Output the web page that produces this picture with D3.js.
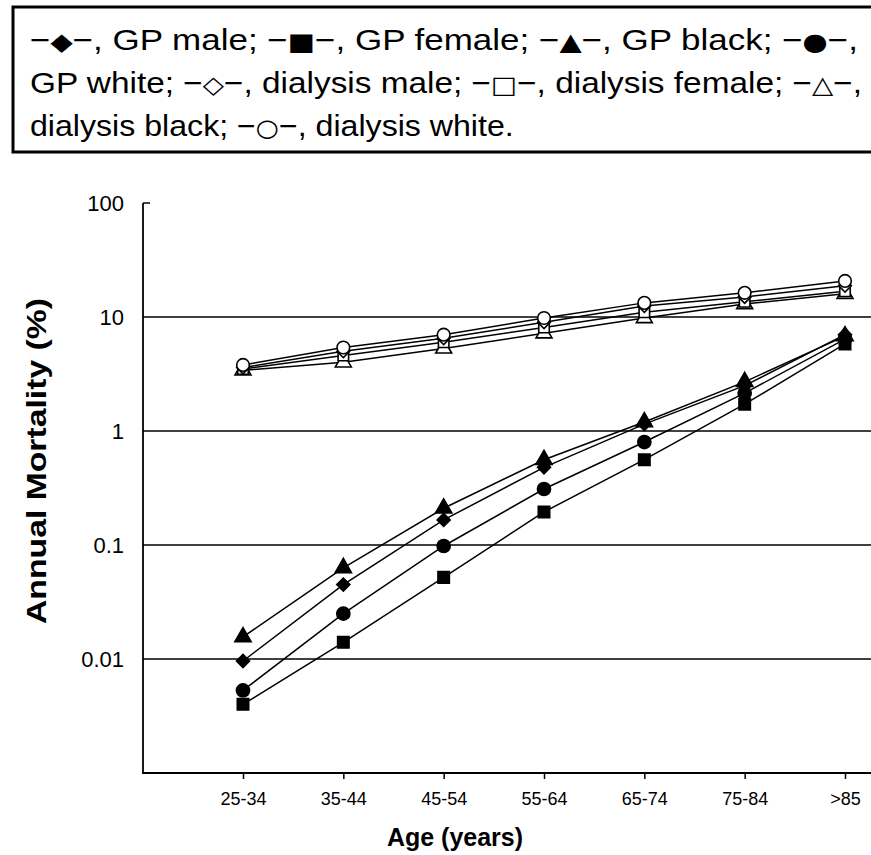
<!DOCTYPE html>
<html><head><meta charset="utf-8">
<script src="https://cdn.jsdelivr.net/npm/d3@7"></script>
<style>
html,body{margin:0;padding:0;background:#fff;}
svg{display:block;}
</style></head>
<body>
<svg id="c" width="871" height="855"></svg>
<script>
const categories = ["25-34","35-44","45-54","55-64","65-74","75-84",">85"];
const gpMale     = [0.0096, 0.045, 0.166, 0.48, 1.15, 2.5, 7.0];
const gpFemale   = [0.0040, 0.014, 0.052, 0.195, 0.56, 1.72, 5.8];
const gpBlack    = [0.0156, 0.063, 0.21, 0.56, 1.2, 2.7, 6.8];
const gpWhite    = [0.0053, 0.025, 0.098, 0.31, 0.8, 2.15, 6.4];
const dialMale   = [3.6, 5.0, 6.5, 9.0, 12.5, 15.0, 18.8];
const dialFemale = [3.5, 4.6, 6.0, 8.1, 11.0, 13.6, 16.8];
const dialBlack  = [3.4, 4.0, 5.3, 7.2, 9.8, 13.0, 16.0];
const dialWhite  = [3.8, 5.4, 7.0, 9.8, 13.3, 16.3, 20.7];
const yTicks = [100, 10, 1, 0.1, 0.01];
const yTickLabels = ["100", "10", "1", "0.1", "0.01"];
// legend lines: [text, symbol, text, symbol, ...]
const legendLines = [
  ["", "\u25C6", ", GP male; ", "\u25A0", ", GP female; ", "\u25B2", ", GP black; ", "\u25CF", ","],
  ["GP white; ", "\u25C7", ", dialysis male; ", "\u25A1", ", dialysis female; ", "\u25B3", ","],
  ["dialysis black; ", "\u25CB", ", dialysis white."]
];
const legendTargets = [828, 832];

const FONT = "Liberation Sans, Arial, sans-serif";
const svg = d3.select("#c");
const x = d3.scalePoint().domain(categories).range([243, 845]);
const y = d3.scaleLog().domain([0.001, 100]).range([773, 203]);

// legend box
svg.append("rect").attr("x", 13).attr("y", 7).attr("width", 880).attr("height", 145)
  .attr("fill", "none").attr("stroke", "#000").attr("stroke-width", 3);
const legendTexts = legendLines.map((parts, i) => {
  const t = svg.append("text").attr("x", 30).attr("y", 50 + i * 43)
    .attr("font-family", FONT).attr("font-size", 29).attr("fill", "#000");
  parts.forEach((p, j) => {
    if (j % 2 === 0) {
      if (p) t.append("tspan").text(p);
    } else {
      t.append("tspan").text("\u2212");
      t.append("tspan").attr("font-family", "DejaVu Sans").attr("font-size", 24).text(p);
      t.append("tspan").text("\u2212");
    }
  });
  return t;
});
const widths = legendTexts.map(t => t.node().getComputedTextLength());
const scales = legendTargets.map((w, i) => w / widths[i]);
legendTexts[0].attr("textLength", legendTargets[0]).attr("lengthAdjust", "spacingAndGlyphs");
legendTexts[1].attr("textLength", legendTargets[1]).attr("lengthAdjust", "spacingAndGlyphs");
legendTexts[2].attr("textLength", widths[2] * (scales[0] + scales[1]) / 2 * 0.94).attr("lengthAdjust", "spacingAndGlyphs");

// gridlines
svg.append("g").selectAll("line").data(yTicks.slice(1)).join("line")
  .attr("x1", 143).attr("x2", 871)
  .attr("y1", d => y(d)).attr("y2", d => y(d))
  .attr("stroke", "#000").attr("stroke-width", 1.3);

// y axis
const yAxis = d3.axisLeft(y).tickValues(yTicks).tickFormat((d, i) => yTickLabels[i]).tickSize(0).tickPadding(19);
const ya = svg.append("g").attr("transform", "translate(143,0)").call(yAxis);
ya.select(".domain").remove();
ya.selectAll("text").attr("font-family", FONT).attr("font-size", 22).attr("fill", "#000");
svg.append("line").attr("x1", 143).attr("x2", 143).attr("y1", y(100)).attr("y2", y(0.001))
  .attr("stroke", "#000").attr("stroke-width", 1.8);
svg.append("line").attr("x1", 143).attr("x2", 150).attr("y1", y(100)).attr("y2", y(100))
  .attr("stroke", "#000").attr("stroke-width", 1.5);

// x axis
const xAxis = d3.axisBottom(x).tickSize(6).tickPadding(13);
const xa = svg.append("g").attr("transform", `translate(0,${y(0.001)})`).call(xAxis);
xa.select(".domain").remove();
xa.selectAll("line").attr("stroke", "#000").attr("stroke-width", 1.5);
xa.selectAll("text").attr("font-family", FONT).attr("font-size", 18).attr("fill", "#000");
svg.append("line").attr("x1", 142).attr("x2", 871).attr("y1", y(0.001)).attr("y2", y(0.001))
  .attr("stroke", "#000").attr("stroke-width", 2);

// axis titles
svg.append("text").attr("transform", "translate(46,461) rotate(-90)")
  .attr("text-anchor", "middle").attr("font-family", FONT)
  .attr("font-weight", "bold").attr("font-size", 27)
  .attr("textLength", 326).attr("lengthAdjust", "spacingAndGlyphs")
  .text("Annual Mortality (%)");
svg.append("text").attr("x", 455).attr("y", 846)
  .attr("text-anchor", "middle").attr("font-family", FONT)
  .attr("font-weight", "bold").attr("font-size", 25)
  .attr("textLength", 136).attr("lengthAdjust", "spacingAndGlyphs")
  .text("Age (years)");

// series
const series = [
  {v: dialBlack, sym: d3.symbolTriangle, size: 110, fill: "#fff", rot: 0},
  {v: dialFemale, sym: d3.symbolSquare, size: 110, fill: "#fff", rot: 0},
  {v: dialMale, sym: d3.symbolSquare, size: 80, fill: "#fff", rot: 45},
  {v: dialWhite, sym: d3.symbolCircle, size: 125, fill: "#fff", rot: 0},
  {v: gpFemale, sym: d3.symbolSquare, size: 130, fill: "#000", rot: 0},
  {v: gpWhite, sym: d3.symbolCircle, size: 135, fill: "#000", rot: 0},
  {v: gpMale, sym: d3.symbolSquare, size: 85, fill: "#000", rot: 45},
  {v: gpBlack, sym: d3.symbolTriangle, size: 115, fill: "#000", rot: 0}
];
const line = d3.line().x((d, i) => x(categories[i])).y(d => y(d));
series.forEach(s => {
  svg.append("path").attr("d", line(s.v)).attr("fill", "none").attr("stroke", "#000").attr("stroke-width", 1.5);
});
series.forEach(s => {
  svg.append("g").selectAll("path").data(s.v).join("path")
    .attr("transform", (d, i) => `translate(${x(categories[i])},${y(d)}) rotate(${s.rot})`)
    .attr("d", d3.symbol().type(s.sym).size(s.size))
    .attr("fill", s.fill).attr("stroke", "#000").attr("stroke-width", 1.6);
});
</script>
</body></html>
